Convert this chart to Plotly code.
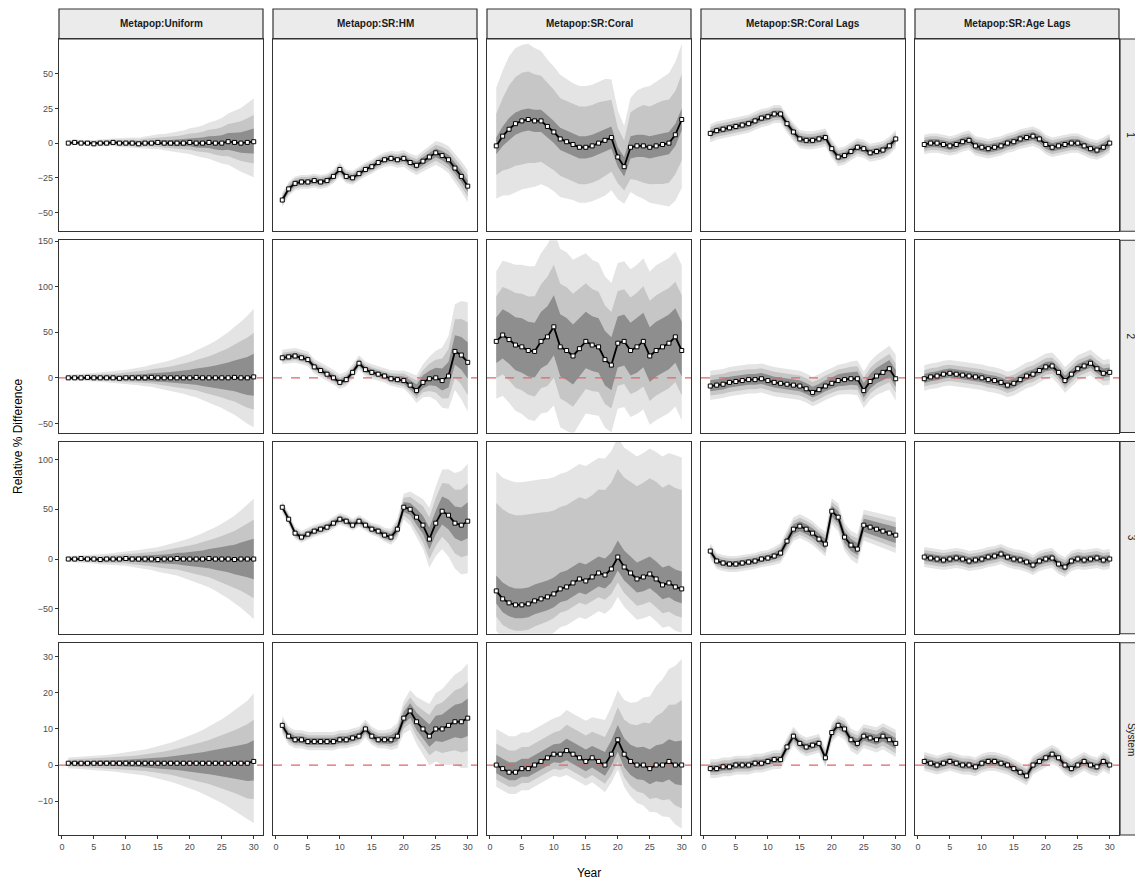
import plotly.graph_objects as go

# ---------------- data ----------------
years = list(range(1, 31))
col_labels = ["Metapop:Uniform", "Metapop:SR:HM", "Metapop:SR:Coral",
              "Metapop:SR:Coral Lags", "Metapop:SR:Age Lags"]
row_labels = ["1", "2", "3", "System"]
x_ticks = [0, 5, 10, 15, 20, 25, 30]
y_ticks_by_row = [[-50, -25, 0, 25, 50], [-50, 0, 50, 100, 150],
                  [-50, 0, 50, 100], [-20, -10, 0, 10, 20, 30]]
zero_line_rows = [1, 3]

# Row 1
med_r1_uniform = [0, 0.5, 0, 0, -0.5, 0, 0, 0.5, 0, 0, 0, -0.5, 0, 0, 0.5, 0, 0, 0, 0, 0.5, 0, 0, 0.5, 0, 0, 1, 0.5, 0, 0.5, 1]
w50_r1_uniform = [0.6, 0.6, 0.7, 0.7, 0.8, 0.8, 0.9, 0.9, 1, 1.1, 1.2, 1.3, 1.4, 1.5, 1.7, 1.9, 2.1, 2.4, 2.7, 3, 3.4, 3.8, 4.3, 4.8, 5.4, 6, 6.7, 7.4, 8.2, 9]
w80_r1_uniform = [1.2, 1.2, 1.3, 1.4, 1.5, 1.6, 1.7, 1.8, 2, 2.2, 2.4, 2.6, 2.8, 3.1, 3.4, 3.8, 4.2, 4.7, 5.3, 5.9, 6.6, 7.4, 8.3, 9.3, 10.4, 11.6, 12.9, 14.3, 15.8, 17.5]
w95_r1_uniform = [1.8, 1.9, 2, 2.1, 2.3, 2.5, 2.7, 2.9, 3.1, 3.4, 3.7, 4, 4.4, 4.8, 5.3, 5.9, 6.6, 7.4, 8.3, 9.3, 10.4, 11.6, 13, 14.6, 16.4, 18.4, 20.6, 23, 25.6, 28.5]
skew_r1_uniform = [0.05, 0.1, 0.1]

med_r1_hm = [-41, -33, -29, -28, -28, -27, -28, -27, -24, -19, -24, -25, -22, -19, -17, -14, -12, -11, -12, -11, -14, -16, -13, -10, -7, -9, -12, -18, -24, -31]
w50_r1_hm = [2, 2, 2, 2, 2, 2, 2, 2, 2, 2, 2, 2, 2, 2, 2, 2, 2, 2, 2, 2.2, 2.4, 2.6, 2.8, 3, 3.2, 3.4, 3.6, 3.8, 4, 4.2]
w80_r1_hm = [3.5, 3.5, 3.5, 3.5, 3.5, 3.5, 3.5, 3.5, 3.5, 3.5, 3.5, 3.5, 3.5, 3.5, 3.5, 3.5, 3.5, 3.6, 3.8, 4, 4.3, 4.6, 5, 5.4, 5.8, 6.2, 6.6, 7, 7.4, 7.8]
w95_r1_hm = [5, 5, 5, 5, 5, 5, 5, 5, 5, 5, 5, 5, 5, 5, 5, 5, 5.2, 5.4, 5.7, 6, 6.4, 6.9, 7.4, 8, 8.6, 9.2, 9.8, 10.4, 11, 11.6]
skew_r1_hm = [0, 0, 0]

med_r1_coral = [-2, 5, 10, 14, 16, 17, 16, 16, 12, 8, 3, 1, -1, -3, -3, -2, 0, 2, 4, -10, -17, -3, -2, -2, -3, -2, -1, 0, 6, 17]
w50_r1_coral = [6, 7, 8, 8, 8, 8, 8, 8, 8, 8, 8, 8, 8, 8, 8, 8, 8, 8, 8, 7, 7, 8, 8, 8, 8, 8, 8, 8, 8, 8]
w80_r1_coral = [22, 26, 30, 32, 33, 33, 32, 31, 30, 29, 28, 28, 28, 28, 28, 28, 28, 27, 26, 20, 18, 24, 26, 28, 28, 29, 30, 30, 30, 31]
w95_r1_coral = [40, 45, 50, 52, 52, 52, 50, 48, 46, 45, 44, 43, 42, 42, 42, 42, 42, 42, 40, 32, 28, 34, 38, 40, 42, 44, 46, 48, 50, 52]
skew_r1_coral = [0, 0.05, 0.05]

med_r1_corallags = [7, 9, 10, 11, 12, 13, 14, 16, 18, 19, 21, 21, 14, 8, 3, 2, 2, 3, 4, -4, -10, -9, -6, -3, -4, -7, -6, -5, -2, 3]
w50_r1_corallags = [2.5, 2.5, 2.5, 2.5, 2.5, 2.5, 2.5, 2.5, 2.5, 2.5, 2.5, 2.5, 2.5, 2.5, 2.5, 2.5, 2.5, 2.5, 2.5, 2.5, 2.5, 2.5, 2.5, 2.5, 2.5, 2.5, 2.5, 2.5, 2.5, 2.5]
w80_r1_corallags = [4.5, 4.5, 4.5, 4.5, 4.5, 4.5, 4.5, 4.5, 4.5, 4.5, 4.5, 4.5, 4.5, 4.5, 4.5, 4.5, 4.5, 4.5, 4.5, 4.5, 4.5, 4.5, 4.5, 4.5, 4.5, 4.5, 4.5, 4.5, 4.5, 4.5]
w95_r1_corallags = [6.5, 6.5, 6.5, 6.5, 6.5, 6.5, 6.5, 6.5, 6.5, 6.5, 6.5, 6.5, 6.5, 6.5, 6.5, 6.5, 6.5, 6.5, 6.5, 6.5, 6.5, 6.5, 6.5, 6.5, 6.5, 6.5, 6.5, 6.5, 6.5, 6.5]
skew_r1_corallags = [0, 0, 0]

med_r1_agelags = [-1, 0, 0, -1, -2, -1, 1, 2, -2, -3, -4, -3, -2, 0, 1, 3, 4, 5, 3, -1, -3, -2, -1, 0, 0, -2, -4, -5, -3, 0]
w50_r1_agelags = [3, 3, 3, 3, 3, 3, 3, 3, 3, 3, 3, 3, 3, 3, 3, 3, 3, 3, 3, 3, 3, 3, 3, 3, 3, 3, 3, 3, 3, 3]
w80_r1_agelags = [5, 5, 5, 5, 5, 5, 5, 5, 5, 5, 5, 5, 5, 5, 5, 5, 5, 5, 5, 5, 5, 5, 5, 5, 5, 5, 5, 5, 5, 5]
w95_r1_agelags = [7, 7, 7, 7, 7, 7, 7, 7, 7, 7, 7, 7, 7, 7, 7, 7, 7, 7, 7, 7, 7, 7, 7, 7, 7, 7, 7, 7, 7, 7]
skew_r1_agelags = [0, 0, 0]

# Row 2
med_r2_uniform = [0, 0, 0, 0.5, 0, 0, 0, 0, -0.5, 0, 0, 0, 0, 0.5, 0, 0, 0, 0, 0, 0, 0.5, 0, 0, 0, 0, 0, 0.5, 0, 0, 1]
w50_r2_uniform = [1, 1.1, 1.3, 1.4, 1.6, 1.8, 2, 2.2, 2.5, 2.7, 3, 3.4, 3.8, 4.2, 4.7, 5.2, 5.8, 6.5, 7.2, 8, 8.9, 10, 11.1, 12.3, 13.7, 15.2, 16.9, 18.7, 20.8, 23]
w80_r2_uniform = [2, 2.2, 2.4, 2.7, 3, 3.3, 3.7, 4.1, 4.6, 5.1, 5.7, 6.3, 7, 7.8, 8.7, 9.8, 10.9, 12.1, 13.5, 15, 16.6, 18.5, 20.6, 22.9, 25.4, 28.2, 31.3, 34.8, 38.5, 42]
w95_r2_uniform = [3, 3.3, 3.7, 4.1, 4.6, 5.1, 5.7, 6.3, 7, 7.8, 8.7, 9.7, 10.8, 12, 13.4, 15, 16.7, 18.6, 20.7, 23, 25.6, 28.5, 31.7, 35.2, 39.1, 43.4, 48.2, 53.5, 59.3, 65]
skew_r2_uniform = [0.1, 0.15, 0.15]

med_r2_hm = [22, 23, 24, 22, 20, 12, 8, 4, 0, -5, -2, 6, 16, 9, 6, 4, 2, -1, -2, -3, -8, -14, -5, -1, 0, -3, 2, 29, 25, 17]
w50_r2_hm = [3, 3, 3, 3, 3, 3, 3, 3, 3, 3, 3, 3, 3, 3, 3, 3, 3, 3, 3.5, 4, 5, 6, 7, 8, 10, 12, 14, 16, 18, 20]
w80_r2_hm = [5, 5, 5, 5, 5, 5, 5, 5, 5, 5, 5, 5, 5, 5, 5, 5, 5, 5.5, 6, 7, 8, 10, 12, 15, 18, 22, 27, 32, 36, 40]
w95_r2_hm = [8, 8, 8, 8, 8, 8, 8, 8, 8, 8, 8, 8, 8, 8, 8, 8, 8, 8.5, 9, 10, 12, 15, 18, 22, 27, 33, 40, 47, 54, 60]
skew_r2_hm = [0.1, 0.1, 0.1]

med_r2_coral = [40, 47, 42, 36, 34, 30, 29, 40, 45, 56, 34, 30, 24, 32, 40, 36, 34, 20, 14, 38, 40, 30, 34, 40, 24, 30, 34, 38, 45, 30]
w50_r2_coral = [25, 27, 28, 29, 30, 30, 30, 31, 32, 33, 34, 34, 33, 32, 31, 30, 30, 30, 29, 28, 28, 29, 30, 30, 30, 30, 30, 30, 30, 30]
w80_r2_coral = [45, 48, 50, 52, 53, 54, 55, 57, 60, 62, 63, 63, 62, 60, 58, 56, 55, 54, 53, 52, 52, 53, 54, 55, 55, 55, 55, 55, 55, 55]
w95_r2_coral = [70, 74, 77, 80, 82, 84, 85, 88, 92, 96, 98, 98, 96, 92, 88, 85, 84, 83, 82, 80, 80, 81, 82, 83, 84, 85, 85, 85, 85, 85]
skew_r2_coral = [0.05, 0.1, 0.1]

med_r2_corallags = [-9, -8, -7, -5, -4, -3, -2, -2, -1, -3, -5, -6, -7, -8, -9, -12, -16, -13, -9, -6, -3, -2, -1, -1, -14, -4, 2, 6, 10, -1]
w50_r2_corallags = [6, 6, 6, 6, 6, 6, 6, 6, 6, 6, 6, 6, 6, 6, 6, 6, 6, 6, 6, 6, 6.5, 7, 7, 7.5, 8, 8, 8.5, 9, 9, 9.5]
w80_r2_corallags = [11, 11, 11, 11, 11, 11, 11, 11, 11, 11, 11, 11, 11, 11, 11, 11, 11, 11, 11, 11, 11.5, 12, 12.5, 13, 13.5, 14, 14.5, 15, 15.5, 16]
w95_r2_corallags = [16, 16, 16, 16, 16, 16, 16, 16, 16, 16, 16, 16, 16, 16, 16, 16, 16, 16, 16, 16, 16.5, 17, 18, 19, 20, 21, 22, 23, 24, 25]
skew_r2_corallags = [0.05, 0.05, 0.05]

med_r2_agelags = [-1, 1, 2, 4, 5, 4, 3, 2, 1, 0, -2, -3, -5, -8, -6, -2, 2, 4, 8, 12, 13, 6, -3, 4, 10, 13, 16, 10, 5, 6]
w50_r2_agelags = [5, 5, 5, 5, 5, 5, 5, 5, 5, 5, 5, 5, 5, 5, 5, 5, 5, 5, 5, 5, 5, 5, 5, 5, 5, 5, 5, 5, 5, 5]
w80_r2_agelags = [9, 9, 9, 9, 9, 9, 9, 9, 9, 9, 9, 9, 9, 9, 9, 9, 9, 9, 9, 9, 9, 9, 9, 9, 9, 9, 9, 9, 9, 9]
w95_r2_agelags = [14, 14, 14, 14, 14, 14, 14, 14, 14, 14, 14, 14, 14, 14, 14, 14, 14, 14, 14, 14, 14, 14, 14, 14, 14, 14, 14, 14, 14, 14]
skew_r2_agelags = [0.05, 0.05, 0.05]

# Row 3
med_r3_uniform = [0, 0, 0.5, 0, 0, -0.5, 0, 0, 0, 0.5, 0, 0, 0, 0, -0.5, 0, 0, 0.5, 0, 0, 0, 0, 0.5, 0, 0, 0, -0.5, 0, 0, 0]
w50_r3_uniform = [1, 1.1, 1.2, 1.3, 1.4, 1.6, 1.8, 2, 2.2, 2.4, 2.7, 3, 3.3, 3.7, 4.1, 4.6, 5.1, 5.7, 6.3, 7, 7.8, 8.7, 9.7, 10.8, 12, 13.3, 14.8, 16.5, 18.3, 20.3]
w80_r3_uniform = [2, 2.2, 2.4, 2.6, 2.9, 3.2, 3.5, 3.9, 4.3, 4.8, 5.3, 5.9, 6.5, 7.2, 8, 8.9, 9.9, 11, 12.2, 13.6, 15.1, 16.8, 18.7, 20.8, 23.1, 25.7, 28.6, 31.8, 35.4, 39.4]
w95_r3_uniform = [3, 3.3, 3.6, 4, 4.4, 4.9, 5.4, 6, 6.6, 7.3, 8.1, 9, 10, 11.1, 12.3, 13.7, 15.2, 16.9, 18.8, 20.9, 23.2, 25.8, 28.7, 31.9, 35.5, 39.5, 44, 49, 54.5, 60.5]
skew_r3_uniform = [0, 0, 0]

med_r3_hm = [52, 40, 26, 22, 25, 28, 30, 32, 36, 40, 38, 34, 38, 34, 30, 28, 24, 22, 30, 52, 50, 42, 34, 20, 36, 48, 44, 36, 34, 38]
w50_r3_hm = [2.5, 2.5, 2.5, 2.5, 2.5, 2.5, 2.5, 2.5, 2.5, 2.5, 2.5, 2.5, 2.5, 2.5, 2.5, 3, 3.2, 3.5, 4, 5, 6, 8, 9, 11, 12, 14, 15, 16, 17, 18]
w80_r3_hm = [4, 4, 4, 4, 4, 4, 4, 4, 4, 4, 4, 4, 4, 4, 4, 4.5, 5, 5.5, 7, 9, 12, 15, 18, 21, 24, 27, 30, 32, 34, 36]
w95_r3_hm = [6, 6, 6, 6, 6, 6, 6, 6, 6, 6, 6, 6, 6, 6, 6, 6.5, 7, 8, 10, 13, 17, 21, 25, 30, 35, 40, 44, 48, 52, 55]
skew_r3_hm = [0.05, 0.05, 0.05]

med_r3_coral = [-32, -40, -44, -46, -46, -45, -42, -40, -38, -35, -30, -28, -24, -20, -22, -18, -14, -16, -10, 2, -8, -14, -20, -18, -15, -20, -26, -24, -28, -30]
w50_r3_coral = [14, 15, 15, 15, 15, 15, 15, 15, 15, 15, 15, 15, 15, 15, 15, 15, 15, 15, 15, 15, 15, 15, 15, 16, 16, 16, 16, 16, 16, 16]
w80_r3_coral = [57, 58, 58, 58, 58, 58, 57, 56, 55, 54, 53, 53, 53, 53, 53, 53, 54, 55, 56, 57, 58, 59, 60, 61, 62, 63, 63, 64, 64, 64]
w95_r3_coral = [80, 81, 82, 82, 82, 82, 81, 80, 79, 78, 77, 77, 77, 77, 77, 77, 77, 78, 79, 80, 80, 81, 82, 83, 84, 85, 86, 87, 88, 88]
skew_r3_coral = [0.1, 0.55, 0.5]

med_r3_corallags = [8, -2, -4, -5, -5, -4, -3, -2, 0, 1, 3, 6, 18, 30, 33, 30, 26, 20, 15, 48, 42, 22, 14, 10, 34, 32, 30, 28, 26, 24]
w50_r3_corallags = [3, 3, 3, 3, 3, 3, 3, 3, 3, 3, 3.5, 4, 4.5, 5, 5, 5, 5, 5, 5, 5.5, 6, 6, 6, 6, 6.5, 7, 7, 7.5, 8, 8]
w80_r3_corallags = [5.5, 5.5, 5.5, 5.5, 5.5, 5.5, 5.5, 5.5, 5.5, 5.5, 6, 7, 8, 8.5, 8.5, 8.5, 8.5, 8.5, 9, 9.5, 10, 10, 10, 10.5, 11, 11.5, 12, 12.5, 13, 13]
w95_r3_corallags = [8, 8, 8, 8, 8, 8, 8, 8, 8, 8, 9, 10, 11, 12, 12, 12, 12, 12, 12.5, 13, 14, 14, 14.5, 15, 15.5, 16, 16.5, 17, 17.5, 18]
skew_r3_corallags = [0, 0, 0]

med_r3_agelags = [2, 1, 0, -1, 0, 1, 0, -2, -1, 0, 2, 3, 5, 2, 0, -1, -3, -6, -2, 0, 1, -5, -8, -2, 0, -1, 0, 1, -1, 0]
w50_r3_agelags = [4, 4, 4, 4, 4, 4, 4, 4, 4, 4, 4, 4, 4, 4, 4, 4, 4, 4, 4, 4, 4, 4, 4, 4, 4, 4, 4, 4, 4, 4]
w80_r3_agelags = [7, 7, 7, 7, 7, 7, 7, 7, 7, 7, 7, 7, 7, 7, 7, 7, 7, 7, 7, 7, 7, 7, 7, 7, 7, 7, 7, 7, 7, 7]
w95_r3_agelags = [10, 10, 10, 10, 10, 10, 10, 10, 10, 10, 10, 10, 10, 10, 10, 10, 10, 10, 10, 10, 10, 10, 10, 10, 10, 10, 10, 10, 10, 10]
skew_r3_agelags = [0, 0, 0]

# Row 4 (System)
med_r4_uniform = [0.5, 0.5, 0.5, 0.5, 0.5, 0.5, 0.5, 0.5, 0.5, 0.5, 0.5, 0.5, 0.5, 0.5, 0.5, 0.5, 0.5, 0.5, 0.5, 0.5, 0.5, 0.5, 0.5, 0.5, 0.5, 0.5, 0.5, 0.5, 0.5, 1]
w50_r4_uniform = [0.5, 0.5, 0.5, 0.6, 0.6, 0.7, 0.7, 0.8, 0.8, 0.9, 1, 1.1, 1.2, 1.3, 1.4, 1.6, 1.8, 2, 2.2, 2.4, 2.6, 2.9, 3.2, 3.5, 3.8, 4.1, 4.4, 4.8, 5.2, 5.6]
w80_r4_uniform = [0.9, 1, 1, 1.1, 1.2, 1.3, 1.4, 1.5, 1.6, 1.7, 1.9, 2.1, 2.3, 2.5, 2.8, 3.1, 3.4, 3.8, 4.2, 4.6, 5.1, 5.6, 6.1, 6.7, 7.3, 8, 8.7, 9.5, 10.3, 11]
w95_r4_uniform = [1.5, 1.6, 1.7, 1.8, 1.9, 2, 2.2, 2.4, 2.6, 2.8, 3, 3.3, 3.6, 4, 4.4, 4.9, 5.4, 6, 6.6, 7.3, 8, 8.8, 9.7, 10.6, 11.6, 12.7, 13.9, 15.2, 16.5, 18]
skew_r4_uniform = [0.05, 0.05, 0.05]

med_r4_hm = [11, 8, 7, 7, 6.5, 6.5, 6.5, 6.5, 6.5, 7, 7, 7.5, 8, 10, 8, 7, 7, 7, 8, 13, 15, 12, 10, 8, 10, 10, 11, 12, 12, 13]
w50_r4_hm = [1, 1, 1, 1, 1, 1, 1, 1, 1, 1, 1, 1, 1, 1, 1, 1, 1, 1.2, 1.4, 1.7, 2, 2.4, 2.7, 3.1, 3.5, 3.8, 4.2, 4.5, 4.9, 5.2]
w80_r4_hm = [1.7, 1.7, 1.7, 1.7, 1.7, 1.7, 1.7, 1.7, 1.7, 1.7, 1.7, 1.7, 1.7, 1.7, 1.7, 1.7, 1.7, 2, 2.4, 3, 3.6, 4.3, 5, 5.6, 6.3, 7, 7.6, 8.3, 9, 9.6]
w95_r4_hm = [2.5, 2.5, 2.5, 2.5, 2.5, 2.5, 2.5, 2.5, 2.5, 2.5, 2.5, 2.5, 2.5, 2.5, 2.5, 2.5, 2.5, 3, 3.5, 4.5, 5.5, 6.5, 7.5, 8.5, 9.5, 10.5, 11.5, 12.5, 13.5, 14.5]
skew_r4_hm = [0.05, 0.05, 0.05]

med_r4_coral = [0, -1, -2, -2, -1, -1, 0, 1, 2, 3, 3, 4, 3, 2, 1, 2, 1, 0, 3, 7, 3, 1, 0, 0, -1, 0, 0, 1, 0, 0]
w50_r4_coral = [2.5, 2.5, 2.5, 2.5, 2.5, 2.5, 2.5, 2.5, 2.5, 2.5, 2.7, 3, 3, 3, 3, 3, 3.1, 3.3, 3.5, 3.7, 4, 4.2, 4.4, 4.6, 4.8, 5, 5.3, 5.6, 5.9, 6.2]
w80_r4_coral = [5, 5, 5, 5, 5, 5, 5, 5, 5, 5, 5.5, 6, 6, 6, 6, 6, 6.2, 6.5, 7, 7.5, 8, 8.6, 9.2, 9.8, 10.5, 11.3, 12.2, 13.1, 14, 15]
w95_r4_coral = [8, 8, 8, 8, 8, 8, 8, 8, 8, 8, 8.5, 9, 9, 9, 9, 9, 9.5, 10, 10.5, 11, 12, 13, 14, 15, 16, 17.5, 19, 20.5, 22, 23.5]
skew_r4_coral = [0.1, 0.2, 0.25]

med_r4_corallags = [-1, -1, -0.5, -0.5, 0, 0, 0, 0.5, 0.5, 1, 1.5, 1.5, 5, 8, 6, 5, 5.5, 6, 2, 9, 11, 10, 7, 6, 8, 7.5, 7, 8, 7, 6]
w50_r4_corallags = [1, 1, 1, 1, 1, 1, 1, 1, 1, 1, 1, 1, 1, 1, 1, 1, 1, 1, 1, 1, 1.1, 1.2, 1.2, 1.3, 1.3, 1.4, 1.4, 1.5, 1.5, 1.5]
w80_r4_corallags = [1.8, 1.8, 1.8, 1.8, 1.8, 1.8, 1.8, 1.8, 1.8, 1.8, 1.8, 1.8, 1.8, 1.8, 1.8, 1.8, 1.8, 1.8, 1.8, 1.8, 1.9, 2, 2.1, 2.2, 2.3, 2.4, 2.5, 2.6, 2.7, 2.8]
w95_r4_corallags = [2.6, 2.6, 2.6, 2.6, 2.6, 2.6, 2.6, 2.6, 2.6, 2.6, 2.6, 2.6, 2.6, 2.6, 2.6, 2.6, 2.6, 2.6, 2.6, 2.6, 2.8, 3, 3.1, 3.2, 3.3, 3.4, 3.5, 3.6, 3.7, 3.8]
skew_r4_corallags = [0, 0, 0]

med_r4_agelags = [1, 0.5, 0, 0.5, 1, 0.5, 0, 0, -0.5, 0.5, 1, 1, 0.5, 0, -1, -2, -3, 0, 1, 2, 3, 2, 0, -1, 0, 1, 0, -0.5, 1, 0]
w50_r4_agelags = [1, 1, 1, 1, 1, 1, 1, 1, 1, 1, 1, 1, 1, 1, 1, 1, 1, 1, 1, 1, 1, 1, 1, 1, 1, 1, 1, 1, 1, 1]
w80_r4_agelags = [1.8, 1.8, 1.8, 1.8, 1.8, 1.8, 1.8, 1.8, 1.8, 1.8, 1.8, 1.8, 1.8, 1.8, 1.8, 1.8, 1.8, 1.8, 1.8, 1.8, 1.8, 1.8, 1.8, 1.8, 1.8, 1.8, 1.8, 1.8, 1.8, 1.8]
w95_r4_agelags = [2.6, 2.6, 2.6, 2.6, 2.6, 2.6, 2.6, 2.6, 2.6, 2.6, 2.6, 2.6, 2.6, 2.6, 2.6, 2.6, 2.6, 2.6, 2.6, 2.6, 2.6, 2.6, 2.6, 2.6, 2.6, 2.6, 2.6, 2.6, 2.6, 2.6]
skew_r4_agelags = [0, 0, 0]

panels = [
    [(med_r1_uniform, w50_r1_uniform, w80_r1_uniform, w95_r1_uniform, skew_r1_uniform),
     (med_r1_hm, w50_r1_hm, w80_r1_hm, w95_r1_hm, skew_r1_hm),
     (med_r1_coral, w50_r1_coral, w80_r1_coral, w95_r1_coral, skew_r1_coral),
     (med_r1_corallags, w50_r1_corallags, w80_r1_corallags, w95_r1_corallags, skew_r1_corallags),
     (med_r1_agelags, w50_r1_agelags, w80_r1_agelags, w95_r1_agelags, skew_r1_agelags)],
    [(med_r2_uniform, w50_r2_uniform, w80_r2_uniform, w95_r2_uniform, skew_r2_uniform),
     (med_r2_hm, w50_r2_hm, w80_r2_hm, w95_r2_hm, skew_r2_hm),
     (med_r2_coral, w50_r2_coral, w80_r2_coral, w95_r2_coral, skew_r2_coral),
     (med_r2_corallags, w50_r2_corallags, w80_r2_corallags, w95_r2_corallags, skew_r2_corallags),
     (med_r2_agelags, w50_r2_agelags, w80_r2_agelags, w95_r2_agelags, skew_r2_agelags)],
    [(med_r3_uniform, w50_r3_uniform, w80_r3_uniform, w95_r3_uniform, skew_r3_uniform),
     (med_r3_hm, w50_r3_hm, w80_r3_hm, w95_r3_hm, skew_r3_hm),
     (med_r3_coral, w50_r3_coral, w80_r3_coral, w95_r3_coral, skew_r3_coral),
     (med_r3_corallags, w50_r3_corallags, w80_r3_corallags, w95_r3_corallags, skew_r3_corallags),
     (med_r3_agelags, w50_r3_agelags, w80_r3_agelags, w95_r3_agelags, skew_r3_agelags)],
    [(med_r4_uniform, w50_r4_uniform, w80_r4_uniform, w95_r4_uniform, skew_r4_uniform),
     (med_r4_hm, w50_r4_hm, w80_r4_hm, w95_r4_hm, skew_r4_hm),
     (med_r4_coral, w50_r4_coral, w80_r4_coral, w95_r4_coral, skew_r4_coral),
     (med_r4_corallags, w50_r4_corallags, w80_r4_corallags, w95_r4_corallags, skew_r4_corallags),
     (med_r4_agelags, w50_r4_agelags, w80_r4_agelags, w95_r4_agelags, skew_r4_agelags)],
]

# ---------------- layout / style ----------------
# the page body adds an 8px margin, so the figure is drawn 8px in from the window edge
OFF = 8
W, H = 1143 - OFF, 888 - OFF
L, R, T, B = 59 - OFF, 1119 - OFF, 39 - OFF, 835 - OFF
PW, PH = R - L, B - T
col_w, col_gap = 204, 10
row_h, row_gap = 192.25, 9
x_range = [-0.45, 31.45]
y_ranges = [[-63.5, 75], [-60, 151], [-75, 118], [-19.4, 33.9]]

band_colors = {"95": "#E4E4E4", "80": "#C6C6C6", "50": "#8E8E8E"}
FONT = "Liberation Sans, Arial, sans-serif"
border = "#333333"

fig = go.Figure()
layout = {}
shapes = []
annotations = []

for r in range(4):
    for c in range(5):
        idx = r * 5 + c + 1
        xs = "x" if idx == 1 else f"x{idx}"
        ys = "y" if idx == 1 else f"y{idx}"
        med, w50, w80, w95, skew = panels[r][c]
        for key, w, s in (("95", w95, skew[2]), ("80", w80, skew[1]), ("50", w50, skew[0])):
            hi = [m + v * (1 + s) for m, v in zip(med, w)]
            lo = [m - v * (1 - s) for m, v in zip(med, w)]
            fig.add_trace(go.Scatter(x=years, y=hi, mode="lines", line=dict(width=0),
                                     showlegend=False, hoverinfo="skip", xaxis=xs, yaxis=ys))
            fig.add_trace(go.Scatter(x=years, y=lo, mode="lines", line=dict(width=0),
                                     fill="tonexty", fillcolor=band_colors[key],
                                     showlegend=False, hoverinfo="skip", xaxis=xs, yaxis=ys))
        if r in zero_line_rows:
            fig.add_trace(go.Scatter(x=x_range, y=[0, 0], mode="lines",
                                     line=dict(color="#E06666", width=1.2, dash="dash"),
                                     showlegend=False, hoverinfo="skip", xaxis=xs, yaxis=ys))
        fig.add_trace(go.Scatter(x=years, y=med, mode="lines+markers",
                                 line=dict(color="black", width=1.8),
                                 marker=dict(symbol="square", size=4, color="white",
                                             line=dict(color="black", width=1)),
                                 showlegend=False, xaxis=xs, yaxis=ys))

        x0 = c * (col_w + col_gap) / PW
        x1 = (c * (col_w + col_gap) + col_w) / PW
        top_px = r * (row_h + row_gap)
        bot_px = top_px + row_h
        y0 = (PH - bot_px) / PH
        y1 = (PH - top_px) / PH
        xk = "xaxis" if idx == 1 else f"xaxis{idx}"
        yk = "yaxis" if idx == 1 else f"yaxis{idx}"
        layout[xk] = dict(domain=[x0, x1], anchor=ys, range=x_range, showgrid=False,
                          zeroline=False, showline=True, mirror=True, linecolor=border,
                          linewidth=1.3, tickvals=x_ticks,
                          ticks="outside" if r == 3 else "", ticklen=3, tickcolor=border,
                          showticklabels=(r == 3),
                          tickfont=dict(family=FONT, size=9, color="#4D4D4D"))
        layout[yk] = dict(domain=[y0, y1], anchor=xs, range=y_ranges[r], showgrid=False,
                          zeroline=False, showline=True, mirror=True, linecolor=border,
                          linewidth=1.3, tickvals=y_ticks_by_row[r],
                          ticks="outside" if c == 0 else "", ticklen=3, tickcolor=border,
                          showticklabels=(c == 0),
                          tickfont=dict(family=FONT, size=9, color="#4D4D4D"))
        if r == 0:
            shapes.append(dict(type="rect", xref="paper", yref="paper", x0=x0, x1=x1,
                               y0=1.0, y1=1.0 + 30 / PH, fillcolor="#EBEBEB",
                               line=dict(color=border, width=1.2), layer="below"))
            annotations.append(dict(text=f"<b>{col_labels[c]}</b>", xref="paper", yref="paper",
                                    x=(x0 + x1) / 2, y=1.0 + 15 / PH, showarrow=False,
                                    font=dict(family=FONT, size=10, color="#1A1A1A"),
                                    xanchor="center", yanchor="middle"))
        if c == 4:
            shapes.append(dict(type="rect", xref="paper", yref="paper", x0=1.0 + 1 / PW,
                               x1=1.0 + 23.5 / PW, y0=y0, y1=y1, fillcolor="#EBEBEB",
                               line=dict(color=border, width=1.2), layer="below"))
            annotations.append(dict(text=row_labels[r], xref="paper", yref="paper",
                                    x=1.0 + 12 / PW, y=(y0 + y1) / 2, showarrow=False,
                                    textangle=90,
                                    font=dict(family=FONT, size=10, color="#1A1A1A"),
                                    xanchor="center", yanchor="middle"))

annotations.append(dict(text="Relative % Difference", xref="paper", yref="paper",
                        x=(18 - 59) / PW, y=0.5, showarrow=False, textangle=-90,
                        font=dict(family=FONT, size=12, color="black"),
                        xanchor="center", yanchor="middle"))
annotations.append(dict(text="Year", xref="paper", yref="paper", x=0.5, y=(835 - 873) / PH,
                        showarrow=False, font=dict(family=FONT, size=12, color="black"),
                        xanchor="center", yanchor="middle"))

fig.update_layout(**layout)
fig.update_layout(width=W, height=H, autosize=False,
                  margin=dict(l=L, r=W - R, t=T, b=H - B),
                  paper_bgcolor="white", plot_bgcolor="white",
                  shapes=shapes, annotations=annotations, showlegend=False)

fig.write_html("out.html")
